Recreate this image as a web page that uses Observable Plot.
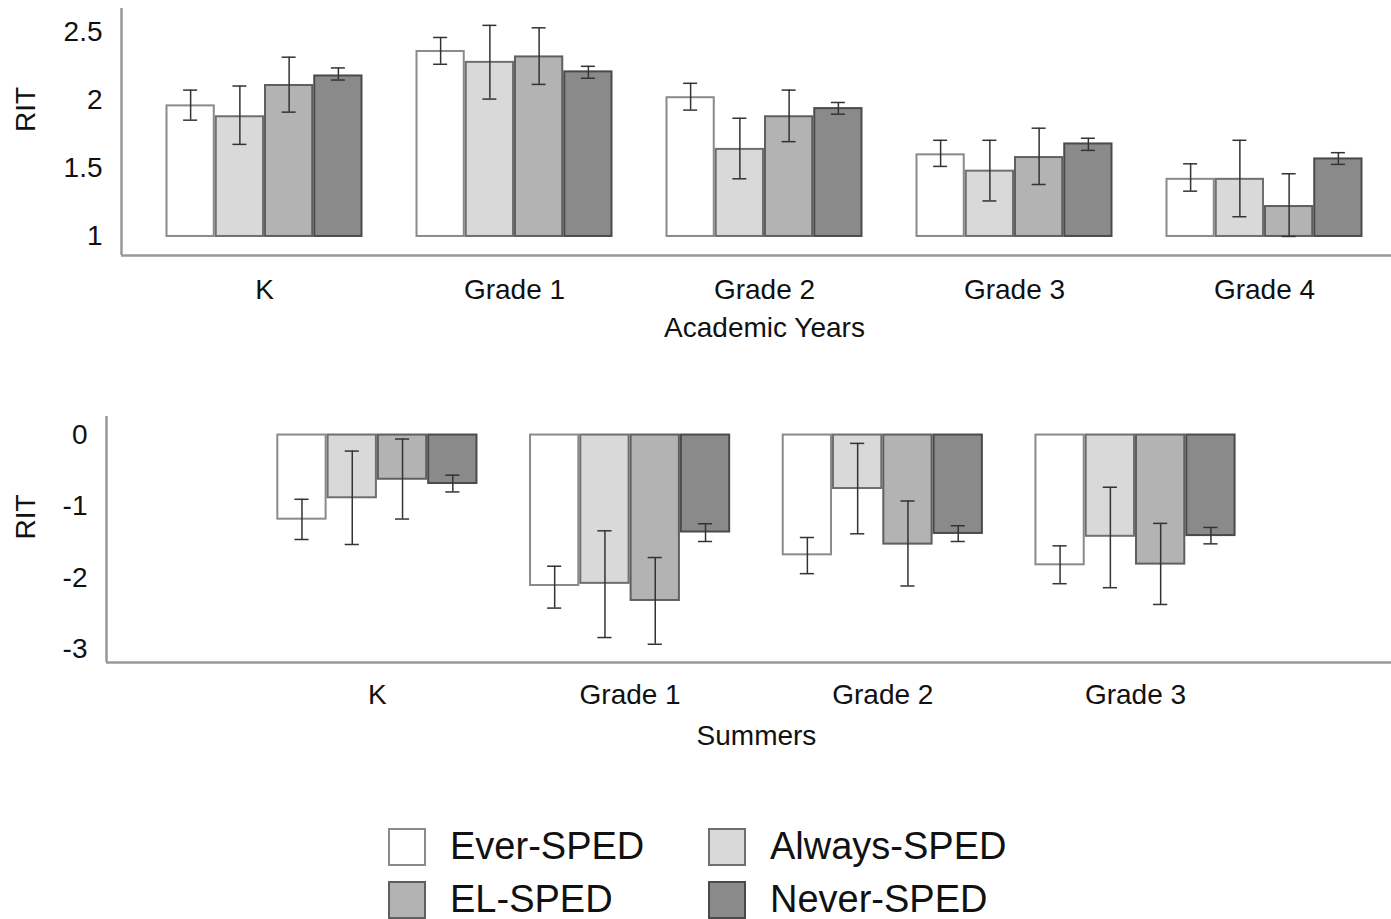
<!DOCTYPE html>
<html>
<head>
<meta charset="utf-8">
<script src="https://cdn.jsdelivr.net/npm/d3@7"></script>
<script src="https://cdn.jsdelivr.net/npm/@observablehq/plot@0.6"></script>
<style>
  html, body { margin: 0; padding: 0; background: #fff; overflow: hidden; }
  body { width: 1391px; height: 919px; position: relative; font-family: "Liberation Sans", Arial, sans-serif; }
  .panel { position: absolute; left: 0; }
  #legend { position: absolute; left: 0; top: 0; width: 1391px; height: 919px; pointer-events: none; }
  .item { position: absolute; display: flex; align-items: center; font-size: 38px; color: #111; white-space: nowrap; }
  .sw { width: 34px; height: 34px; border: 2px solid #777; margin-right: 24px; box-sizing: content-box; }
</style>
</head>
<body>
<div id="top" class="panel" style="top:0px"></div>
<div id="bottom" class="panel" style="top:400px"></div>
<div id="legend"></div>
<script>
// ---------- data ----------
const groups = ["Ever-SPED", "Always-SPED", "EL-SPED", "Never-SPED"];
const fills = ["#ffffff", "#d9d9d9", "#b3b3b3", "#8a8a8a"];
const strokes = ["#8a8a8a", "#6f6f6f", "#5f5f5f", "#4a4a4a"];

const years = ["K", "Grade 1", "Grade 2", "Grade 3", "Grade 4"];
const yearMean = [
  [1.96, 2.36, 2.02, 1.60, 1.42],
  [1.88, 2.28, 1.64, 1.48, 1.42],
  [2.11, 2.32, 1.88, 1.58, 1.22],
  [2.18, 2.21, 1.94, 1.68, 1.57]
];
const yearLow = [
  [1.855, 2.266, 1.929, 1.515, 1.333],
  [1.677, 2.010, 1.424, 1.261, 1.145],
  [1.914, 2.118, 1.697, 1.382, 1.000],
  [2.150, 2.163, 1.899, 1.633, 1.530]
];
const yearHigh = [
  [2.076, 2.463, 2.126, 1.707, 1.534],
  [2.106, 2.552, 1.869, 1.707, 1.707],
  [2.318, 2.534, 2.076, 1.796, 1.461],
  [2.239, 2.251, 1.985, 1.722, 1.616]
];
const yearTicks = [1, 1.5, 2, 2.5];

const summers = ["K", "Grade 1", "Grade 2", "Grade 3"];
const summerMean = [
  [-1.18, -2.11, -1.68, -1.82],
  [-0.88, -2.08, -0.75, -1.42],
  [-0.62, -2.32, -1.53, -1.81],
  [-0.68, -1.36, -1.38, -1.41]
];
const summerLow = [
  [-1.465, -2.427, -1.944, -2.085],
  [-1.535, -2.840, -1.385, -2.141],
  [-1.178, -2.934, -2.117, -2.376],
  [-0.798, -1.493, -1.493, -1.526]
];
const summerHigh = [
  [-0.901, -1.840, -1.437, -1.554],
  [-0.225, -1.343, -0.117, -0.732],
  [-0.056, -1.718, -0.925, -1.239],
  [-0.563, -1.244, -1.272, -1.296]
];
const summerTicks = [0, -1, -2, -3];

// ---------- chart builder ----------
function chart(cfg) {
  const { cats, means, lows, highs, base, yDomain, yTicks, xDomain, half,
          height, marginTop, marginBottom, marginLeft, xLabel, labelDy, tickPad, ritDx } = cfg;
  const slot = (2 * half) / groups.length;
  const cap = 0.028;
  const rows = [];
  groups.forEach((g, gi) => cats.forEach((c, ci) => {
    const x1 = ci - half + gi * slot;
    rows.push({ gi, ci, group: g, cat: c, mean: means[gi][ci], lo: lows[gi][ci], hi: highs[gi][ci],
                x1, x2: x1 + slot, xc: x1 + slot / 2 });
  }));
  return Plot.plot({
    width: 1391,
    height,
    marginTop, marginBottom, marginLeft, marginRight: 0,
    style: { fontSize: "28px", fontFamily: "'Liberation Sans', Arial, sans-serif", color: "#111", background: "#fff", overflow: "visible" },
    x: { type: "linear", domain: xDomain },
    y: { domain: yDomain },
    marks: [
      Plot.rectY(rows, {
        x1: "x1", x2: "x2", y1: () => base, y2: "mean",
        fill: d => fills[d.gi], stroke: d => strokes[d.gi], strokeWidth: 2,
        insetLeft: 1, insetRight: 1
      }),
      Plot.ruleX(rows, { x: "xc", y1: "lo", y2: "hi", stroke: "#333", strokeWidth: 1.5 }),
      Plot.ruleY(rows, { y: "lo", x1: d => d.xc - cap, x2: d => d.xc + cap, stroke: "#333", strokeWidth: 1.5 }),
      Plot.ruleY(rows, { y: "hi", x1: d => d.xc - cap, x2: d => d.xc + cap, stroke: "#333", strokeWidth: 1.5 }),
      Plot.ruleY([yDomain[0]], { stroke: "#999", strokeWidth: 2.5 }),
      Plot.ruleX([xDomain[0]], { y1: yDomain[0], y2: yDomain[1], stroke: "#999", strokeWidth: 2.5 }),
      Plot.axisX({ ticks: d3.range(cats.length), tickFormat: i => cats[i], tickSize: 0, tickPadding: tickPad, label: null }),
      Plot.axisY({ ticks: yTicks, tickFormat: d => String(d), tickSize: 0, tickPadding: 19, label: null }),
      Plot.text([xLabel], { x: () => (cats.length - 1) / 2, text: d => d, frameAnchor: "bottom", dy: labelDy, lineAnchor: "middle" }),
      Plot.text(["RIT"], { text: d => d, frameAnchor: "left", dx: ritDx, rotate: -90 })
    ]
  });
}

document.getElementById("top").append(chart({
  cats: years, means: yearMean, lows: yearLow, highs: yearHigh, base: 1,
  yDomain: [0.86, 2.676], yTicks: yearTicks, xDomain: [-0.572, 4.508], half: 0.394,
  height: 345, marginTop: 8, marginBottom: 90, marginLeft: 121,
  xLabel: "Academic Years", labelDy: 73, tickPad: 24, ritDx: -95
}));

document.getElementById("bottom").append(chart({
  cats: summers, means: summerMean, lows: summerLow, highs: summerHigh, base: 0,
  yDomain: [-3.19, 0.26], yTicks: summerTicks, xDomain: [-1.072, 4.013], half: 0.398,
  height: 360, marginTop: 16, marginBottom: 98, marginLeft: 106,
  xLabel: "Summers", labelDy: 74, tickPad: 22, ritDx: -80
}));

// ---------- legend ----------
const legendPos = [[388, 825], [708, 825], [388, 878], [708, 878]];
const legend = d3.select("#legend");
groups.forEach((g, i) => {
  const item = legend.append("div").attr("class", "item")
    .style("left", legendPos[i][0] + "px").style("top", legendPos[i][1] + "px");
  item.append("div").attr("class", "sw").style("background", fills[i]).style("border-color", strokes[i]);
  item.append("span").text(g);
});
</script>
</body>
</html>
